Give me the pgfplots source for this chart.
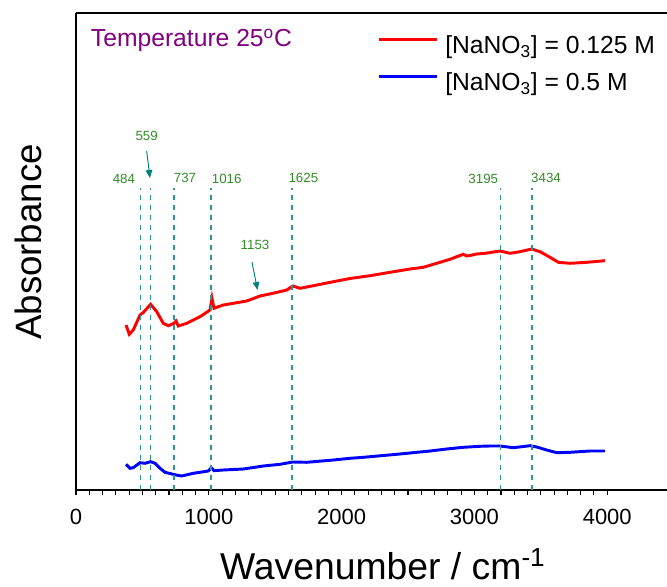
\documentclass[border=0pt]{standalone}
\usepackage{fontspec}
\setmainfont{Liberation Sans}
\usepackage{pgfplots}
\pgfplotsset{compat=1.18}
\usetikzlibrary{calc,arrows.meta}

\definecolor{dashcol}{RGB}{45,150,155}
\definecolor{lblcol}{RGB}{50,140,40}
\definecolor{arrcol}{RGB}{0,128,128}
\definecolor{tempcol}{RGB}{128,0,128}

\pgfplotstableread{
x y
377 1.650
401 1.557
431 1.600
482 1.750
505 1.773
562 1.857
608 1.783
657 1.667
695 1.643
738 1.667
753 1.690
770 1.640
834 1.667
934 1.733
1009 1.800
1024 1.917
1039 1.817
1109 1.850
1185 1.867
1285 1.890
1386 1.940
1483 1.967
1587 2.000
1632 2.040
1687 2.017
1787 2.043
1938 2.083
2063 2.115
2214 2.143
2364 2.177
2515 2.210
2615 2.227
2716 2.267
2816 2.307
2867 2.333
2916 2.357
2942 2.340
2967 2.345
3017 2.360
3080 2.367
3193 2.390
3268 2.367
3343 2.383
3431 2.410
3494 2.383
3569 2.327
3632 2.277
3720 2.267
3846 2.277
3983 2.293
}\redtab

\pgfplotstableread{
x y
377 0.257
407 0.217
431 0.223
482 0.273
520 0.267
562 0.283
595 0.267
633 0.217
670 0.177
753 0.150
796 0.140
883 0.167
996 0.190
1019 0.223
1039 0.193
1109 0.200
1260 0.210
1410 0.240
1536 0.257
1632 0.280
1737 0.277
1938 0.300
2063 0.317
2164 0.327
2415 0.357
2666 0.390
2791 0.410
2916 0.427
3042 0.437
3117 0.440
3193 0.440
3293 0.423
3419 0.443
3469 0.430
3544 0.400
3620 0.373
3720 0.377
3870 0.390
3983 0.390
}\bluetab

\begin{document}
\begin{tikzpicture}
\begin{axis}[
  name=ax,
  scale only axis,
  width=443.25pt, height=357.75pt,
  xmin=0, xmax=4450, ymin=0, ymax=4.77,
  axis x line=box, axis y line=left,
  axis line style={-, line width=1.1pt},
  every outer y axis line/.append style={-},
  every outer x axis line/.append style={-},
  xtick={0,1000,2000,3000,4000},
  minor x tick num=9,
  xtick pos=left,
  ytick=\empty,
  tick align=outside,
  major tick length=4pt, minor tick length=4pt,
  tick style={line width=0.8pt, black},
  /pgf/number format/assume math mode=true,
  /pgf/number format/1000 sep={},
  xticklabel style={font=\fontsize{16.5}{18}\selectfont, yshift=-7pt},
  xlabel={Wavenumber / cm\textsuperscript{-1}},
  ylabel={Absorbance},
  xlabel style={font=\fontsize{28}{32}\selectfont, at={(axis description cs:0.519,-0.1866)}, anchor=base},
  ylabel style={font=\fontsize{27.5}{32}\selectfont, at={(axis description cs:-0.081,0.52)}, anchor=center},
  legend cell align=left,
  legend image code/.code={\draw[#1] (0pt,6.5pt) -- (43.5pt,6.5pt);},
  legend style={draw=none, fill=none, inner sep=0pt, at={(axis description cs:0.51,0.9518)}, anchor=north west,
    font=\fontsize{18.5}{22}\selectfont, row sep=9.5pt, column sep=5pt,
    nodes={inner sep=0pt, text height=13pt, text depth=5pt}},
]
\addplot[red, line width=2.2pt] table[x=x,y=y] {\redtab};
\addlegendentry{[NaNO\textsubscript{3}] = 0.125 M}
\addplot[blue, line width=2.2pt] table[x=x,y=y] {\bluetab};
\addlegendentry{[NaNO\textsubscript{3}] = 0.5 M}

\pgfplotsset{dashline/.style={dashcol, line width=1.1pt, dash pattern=on 3.75pt off 3.75pt, forget plot}}
\addplot[dashline] coordinates {(484,0) (484,3.02)};
\addplot[dashline] coordinates {(559,0) (559,3.02)};
\addplot[dashline] coordinates {(737,0) (737,3.02)};
\addplot[dashline] coordinates {(1016,0) (1016,3.02)};
\addplot[dashline] coordinates {(1625,0) (1625,3.02)};
\addplot[dashline] coordinates {(3195,0) (3195,3.02)};
\addplot[dashline] coordinates {(3434,0) (3434,3.02)};

\begin{scope}[every node/.style={font=\fontsize{10}{12}\selectfont, text=lblcol, inner sep=0pt}]
\node at (axis cs:361,3.11) {484};
\node at (axis cs:532,3.54) {559};
\node at (axis cs:821,3.12) {737};
\node at (axis cs:1135,3.11) {1016};
\node at (axis cs:1712,3.12) {1625};
\node at (axis cs:3067,3.11) {3195};
\node at (axis cs:3539,3.12) {3434};
\node at (axis cs:1348,2.45) {1153};
\end{scope}
\draw[arrcol, line width=0.7pt, -{Triangle[length=6pt,width=5pt]}] (axis cs:532,3.39) -- (axis cs:557,3.12);
\draw[arrcol, line width=0.7pt, -{Triangle[length=6pt,width=5pt]}] (axis cs:1325,2.28) -- (axis cs:1367,2.00);

\node[anchor=base west, inner sep=0pt, text=tempcol, font=\fontsize{18.5}{22}\selectfont]
  at (axis description cs:0.0249,0.9294) {Temperature 25\textsuperscript{o}C};
\end{axis}
\pgfresetboundingbox
\path ($(ax.south west)+(-57pt,-72pt)$) rectangle ($(ax.north east)+(0pt,9.75pt)$);
\end{tikzpicture}
\end{document}
